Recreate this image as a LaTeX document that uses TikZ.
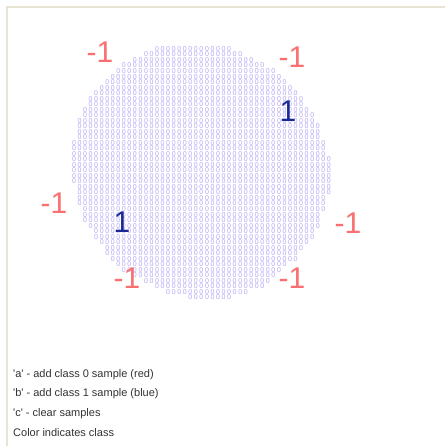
\documentclass[tikz,border=0pt]{standalone}
\usepackage{fontspec}
\newfontfamily\uifont{Liberation Sans}
\newfontfamily\bigfont{Liberation Sans}[Scale=1]
\definecolor{framecol}{RGB}{232,228,212}
\definecolor{dotcol}{RGB}{180,166,246}
\definecolor{negcol}{RGB}{250,112,112}
\definecolor{poscol}{RGB}{26,40,150}
\definecolor{txtcol}{RGB}{51,51,51}
\tikzset{
  dotglyph/.style={inner sep=0pt, outer sep=0pt, text=dotcol, font=\uifont\fontsize{7}{7}\selectfont},
  neglabel/.style={inner sep=0pt, text=negcol, font={\fontsize{30}{30}\bigfont}},
  poslabel/.style={inner sep=0pt, text=poscol, font={\fontsize{30}{30}\bigfont}},
  helptext/.style={inner sep=0pt, anchor=west, text=txtcol, font=\uifont\fontsize{11}{13}\selectfont},
}
\begin{document}
\begin{tikzpicture}[x=1pt,y=-1pt]
\useasboundingbox (0,0) rectangle (445,446);
\fill[white] (0,0) rectangle (445,446);
\draw[framecol, line width=2pt] (7,446) -- (7,7) -- (445,7);
% grid of classifier output glyphs
\foreach \r/\a/\b in {0/15/28,1/13/30,2/11/32,3/9/34,4/8/36,5/7/37,6/6/38,7/5/39,8/4/40,9/3/41,
  10/3/41,11/2/42,12/2/43,13/1/43,14/1/44,15/1/44,16/1/44,17/0/45,18/0/45,19/0/45,
  20/0/46,21/0/46,22/0/46,23/0/46,24/0/46,25/1/46,26/1/46,27/1/45,28/1/45,29/2/45,
  30/2/44,31/2/44,32/3/44,33/4/43,34/4/43,35/5/42,36/6/41,37/6/40,38/7/40,39/8/38,
  40/9/37,41/11/36,42/13/35,43/15/34,44/17/31,45/21/28}{
  \foreach \c in {\a,...,\b}{
    \node[dotglyph] (d-\r-\c) at ({74+5.54*\c},{49+5.52*\r}) {0};
  }
}
% sample labels
\node[neglabel] (n1) at (100,52.5) {-1};
\node[neglabel] (n2) at (292,57) {-1};
\node[neglabel] (n3) at (54,203) {-1};
\node[neglabel] (n4) at (348,223) {-1};
\node[neglabel] (n5) at (127,278) {-1};
\node[neglabel] (n6) at (292,278) {-1};
\node[poslabel] (p1) at (288,111.5) {1};
\node[poslabel] (p2) at (122,222.5) {1};
% help text
\node[helptext] (h1) at (13,375) {\textquotesingle a\textquotesingle{} - add class 0 sample (red)};
\node[helptext] (h2) at (13,394) {\textquotesingle b\textquotesingle{} - add class 1 sample (blue)};
\node[helptext] (h3) at (13,413.5) {\textquotesingle c\textquotesingle{} - clear samples};
\node[helptext] (h4) at (13,433) {Color indicates class};
\end{tikzpicture}
\end{document}
